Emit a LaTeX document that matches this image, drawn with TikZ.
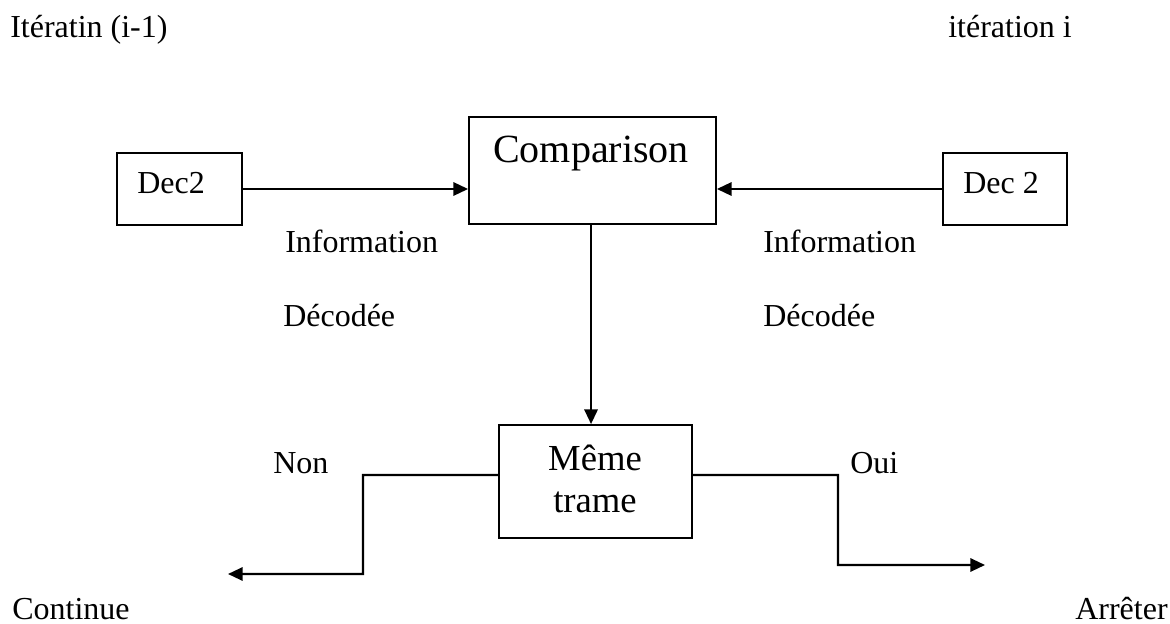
\documentclass[tikz,border=0pt]{standalone}
\usepackage{fontspec}
\setmainfont{Liberation Serif}
\usetikzlibrary{arrows.meta}
\begin{document}
\begin{tikzpicture}[x=0.75pt,y=-0.75pt,
  box/.style={draw,line width=1.4pt,inner sep=0pt},
  txt/.style={inner sep=0pt,anchor=base west,font=\fontsize{24}{28}\selectfont},
  conn/.style={line width=1.6pt,-{Triangle[length=11pt,width=10pt]}},
  plain/.style={line width=1.6pt}]
\useasboundingbox (0,0) rectangle (1170,624);
% boxes
\node[box,minimum width=93.75pt,minimum height=54pt] (d1) at (179.5,189) {};
\node[box,minimum width=93pt,minimum height=54pt] (d2) at (1005,189) {};
\node[box,minimum width=185.25pt,minimum height=80.25pt] (comp) at (592.5,170.5) {};
\node[box,minimum width=144.75pt,minimum height=84.75pt] (meme) at (595.5,481.5) {};
% box texts
\node[txt] (d1t) at (137,194) {Dec2};
\node[txt] (d2t) at (963,194) {Dec 2};
\node[inner sep=0pt,anchor=base,font=\fontsize{30}{36}\selectfont] (compt) at (591,162) {Comparison};
\node[inner sep=0pt,anchor=base,font=\fontsize{27.5}{31.5}\selectfont] (memet1) at (595,470) {Même};
\node[inner sep=0pt,anchor=base,font=\fontsize{27.5}{31.5}\selectfont] (memet2) at (595,512) {trame};
% free labels
\node[txt] (it1) at (10,38) {Itératin (i-1)};
\node[txt] (it2) at (948,38) {itération i};
\node[txt] (inf1) at (285,252) {Information};
\node[txt] (dec1) at (283,326) {Décodée};
\node[txt] (inf2) at (763,252) {Information};
\node[txt] (dec2) at (763,326) {Décodée};
\node[txt] (non) at (273,473) {Non};
\node[txt] (oui) at (850,473) {Oui};
\node[txt] (cont) at (12,619) {Continue};
\node[txt] (arr) at (1075,619) {Arrêter};
% connectors
\draw[conn] (d1.east) -- (d1.east -| comp.west);
\draw[conn] (d2.west) -- (d2.west -| comp.east);
\draw[conn] ([xshift=-1.1pt]comp.south) -- ([xshift=-1.1pt]comp.south |- meme.north);
\coordinate (endnon) at (228,574);
\coordinate (endoui) at (985,565);
\draw[conn] ([yshift=4.9pt]meme.west) -- (363,475) -- (363,574) -- (endnon);
\draw[conn] ([yshift=4.9pt]meme.east) -- (838,475) -- (838,565) -- (endoui);
\end{tikzpicture}
\end{document}
